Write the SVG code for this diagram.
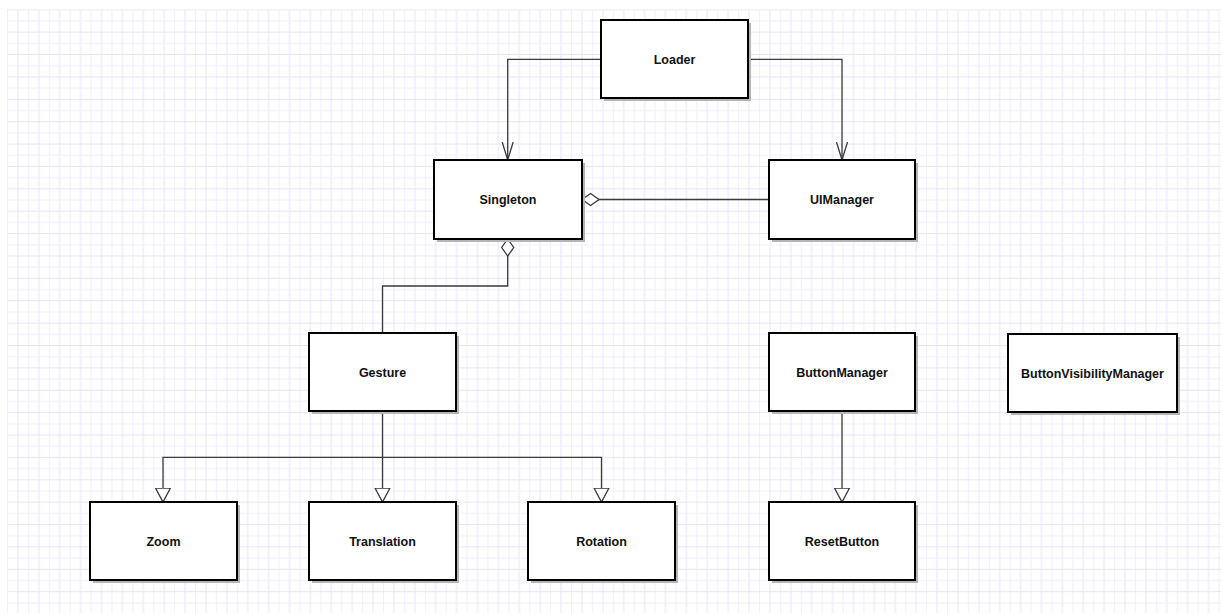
<svg xmlns="http://www.w3.org/2000/svg" width="1221" height="613" viewBox="0 0 1221 613">
  <style>
    .shadow { fill: #b5b5b5; }
    .box { fill: #ffffff; stroke: #000000; stroke-width: 2; }
    .label { font-family: "Liberation Sans", Arial, sans-serif; font-size: 12.5px; font-weight: bold; fill: #111111; text-anchor: middle; }
    .conn { fill: none; stroke: #3a3a3a; stroke-width: 1.3; }
  </style>
  <defs>
    <pattern id="grid" patternUnits="userSpaceOnUse" x="7" y="9.3" width="20.888" height="22.38">
      <rect width="20.888" height="22.38" fill="#ffffff"/>
      <line x1="0.5" y1="0" x2="0.5" y2="22.38" stroke="#f1effd" stroke-width="1"/>
      <line x1="10.944" y1="0" x2="10.944" y2="22.38" stroke="#e7e3fb" stroke-width="1"/>
      <line x1="0" y1="11.69" x2="20.888" y2="11.69" stroke="#f1effd" stroke-width="1"/>
      <line x1="0" y1="0.5" x2="20.888" y2="0.5" stroke="#e7e3fb" stroke-width="1"/>
    </pattern>
    <marker id="openArrow" markerUnits="userSpaceOnUse" markerWidth="20" markerHeight="14" viewBox="0 0 20 14" refX="18" refY="7" orient="auto">
      <path d="M0,1.5 L18,7 L0,12.5" fill="none" stroke="#3a3a3a" stroke-width="1.3"/>
    </marker>
    <marker id="hollowTri" markerUnits="userSpaceOnUse" markerWidth="16" markerHeight="17" viewBox="0 0 16 17" refX="14.5" refY="8.5" orient="auto">
      <path d="M0.5,1 L14.5,8.5 L0.5,16 Z" fill="#ffffff" stroke="#3a3a3a" stroke-width="1.3"/>
    </marker>
    <marker id="diamond" markerUnits="userSpaceOnUse" markerWidth="19" markerHeight="15" viewBox="0 0 19 15" refX="0.5" refY="7.5" orient="auto">
      <path d="M0.5,7.5 L9,1.5 L17.5,7.5 L9,13.5 Z" fill="#ffffff" stroke="#3a3a3a" stroke-width="1.3"/>
    </marker>
  </defs>

  <rect x="0" y="0" width="1221" height="613" fill="#ffffff"/>
  <rect x="7" y="9.3" width="1214" height="604" fill="url(#grid)"/>

  <g id="connectors">
    <path class="conn" d="M601,59.3 H507.7 V160" marker-end="url(#openArrow)"/>
    <path class="conn" d="M748,59.3 H842 V160" marker-end="url(#openArrow)"/>
    <path class="conn" d="M582,199.5 H769" marker-start="url(#diamond)"/>
    <path class="conn" d="M507.7,239 V286 H382.5 V333" marker-start="url(#diamond)"/>
    <path class="conn" d="M382.5,411 V457.3 H163 V502" marker-end="url(#hollowTri)"/>
    <path class="conn" d="M382.5,457.3 V502" marker-end="url(#hollowTri)"/>
    <path class="conn" d="M382.5,457.3 H601.5 V502" marker-end="url(#hollowTri)"/>
    <path class="conn" d="M842,411 V502" marker-end="url(#hollowTri)"/>
  </g>

  <g id="loader">
    <rect class="shadow" x="604" y="23" width="147" height="78"/>
    <rect class="box" x="601" y="20" width="147" height="78"/>
    <text class="label" x="674.5" y="63.5">Loader</text>
  </g>
  <g id="singleton">
    <rect class="shadow" x="437" y="163" width="148" height="79"/>
    <rect class="box" x="434" y="160" width="148" height="79"/>
    <text class="label" x="508" y="204">Singleton</text>
  </g>
  <g id="uimanager">
    <rect class="shadow" x="772" y="163" width="146" height="79"/>
    <rect class="box" x="769" y="160" width="146" height="79"/>
    <text class="label" x="842" y="204">UIManager</text>
  </g>
  <g id="gesture">
    <rect class="shadow" x="312" y="336" width="147" height="78"/>
    <rect class="box" x="309" y="333" width="147" height="78"/>
    <text class="label" x="382.5" y="376.5">Gesture</text>
  </g>
  <g id="buttonmanager">
    <rect class="shadow" x="772" y="336" width="146" height="78"/>
    <rect class="box" x="769" y="333" width="146" height="78"/>
    <text class="label" x="842" y="376.5">ButtonManager</text>
  </g>
  <g id="buttonvisibilitymanager">
    <rect class="shadow" x="1011" y="337" width="169" height="78"/>
    <rect class="box" x="1008" y="334" width="169" height="78"/>
    <text class="label" x="1092.5" y="377.5">ButtonVisibilityManager</text>
  </g>
  <g id="zoom">
    <rect class="shadow" x="93" y="505" width="147" height="78"/>
    <rect class="box" x="90" y="502" width="147" height="78"/>
    <text class="label" x="163.5" y="545.5">Zoom</text>
  </g>
  <g id="translation">
    <rect class="shadow" x="312" y="505" width="147" height="78"/>
    <rect class="box" x="309" y="502" width="147" height="78"/>
    <text class="label" x="382.5" y="545.5">Translation</text>
  </g>
  <g id="rotation">
    <rect class="shadow" x="531" y="505" width="147" height="78"/>
    <rect class="box" x="528" y="502" width="147" height="78"/>
    <text class="label" x="601.5" y="545.5">Rotation</text>
  </g>
  <g id="resetbutton">
    <rect class="shadow" x="772" y="505" width="146" height="78"/>
    <rect class="box" x="769" y="502" width="146" height="78"/>
    <text class="label" x="842" y="545.5">ResetButton</text>
  </g>
</svg>
